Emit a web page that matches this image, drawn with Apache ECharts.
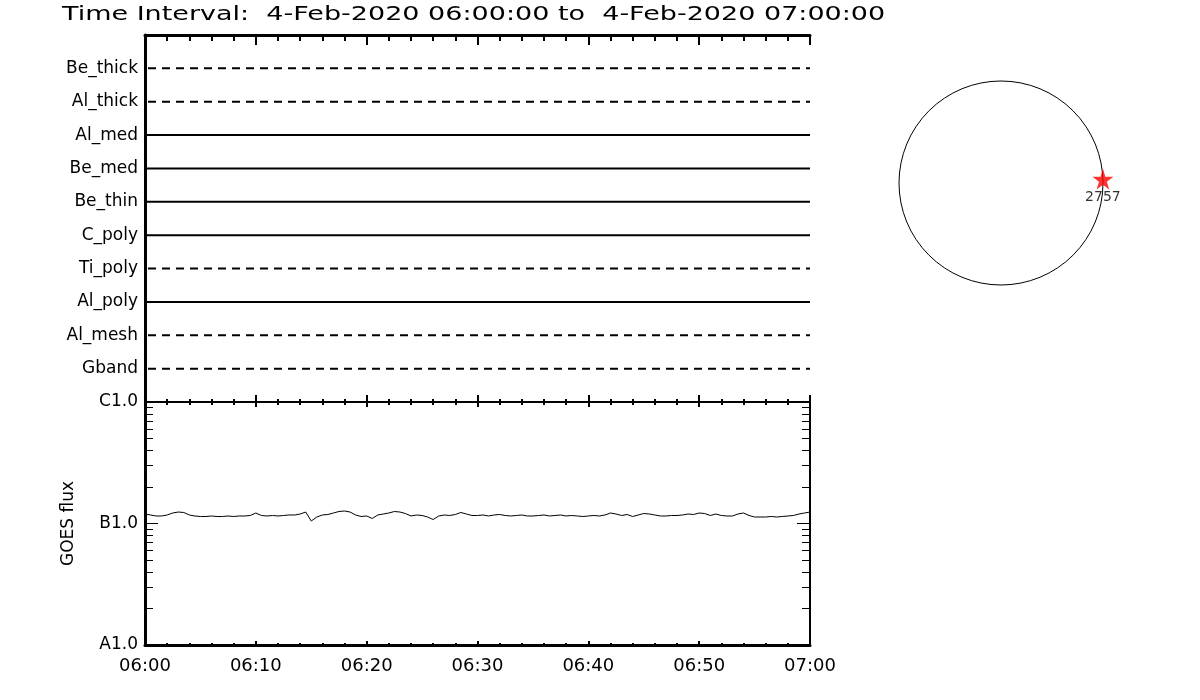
<!DOCTYPE html>
<html>
<head>
<meta charset="utf-8">
<script src="https://cdn.jsdelivr.net/npm/echarts@6/dist/echarts.min.js"></script>
<style>
  html, body { margin: 0; padding: 0; background: #fff; }
  #chart { width: 1200px; height: 700px; }
</style>
</head>
<body>
<div id="chart"></div>
<script>
// channel rows of the top panel, top to bottom
const channelNames = ['Be_thick', 'Al_thick', 'Al_med', 'Be_med', 'Be_thin', 'C_poly', 'Ti_poly', 'Al_poly', 'Al_mesh', 'Gband']
const channelLineTypes = ['dashed', 'dashed', 'solid', 'solid', 'solid', 'solid', 'dashed', 'solid', 'dashed', 'dashed']

// minutes after 06:00
const timeRange = [0, 60]
const timeLabels = ['06:00', '06:10', '06:20', '06:30', '06:40', '06:50', '07:00']

// GOES flux, units of 1e-7 W/m^2, one sample every 30 s
const goesStep = 0.5
const goesFlux = [
    1.197, 1.175, 1.153, 1.153, 1.175, 1.220, 1.243, 1.232, 1.175, 1.153,
    1.142, 1.142, 1.153, 1.142, 1.142, 1.153, 1.142, 1.153, 1.153, 1.164,
    1.220, 1.164, 1.153, 1.164, 1.153, 1.164, 1.175, 1.175, 1.197, 1.243,
    1.048, 1.131, 1.175, 1.186, 1.220, 1.255, 1.267, 1.243, 1.175, 1.142,
    1.153, 1.100, 1.175, 1.197, 1.220, 1.255, 1.243, 1.208, 1.153, 1.175,
    1.164, 1.131, 1.078, 1.153, 1.175, 1.164, 1.186, 1.232, 1.197, 1.164,
    1.164, 1.175, 1.153, 1.175, 1.186, 1.164, 1.153, 1.164, 1.175, 1.153,
    1.153, 1.164, 1.175, 1.153, 1.164, 1.175, 1.153, 1.164, 1.153, 1.142,
    1.153, 1.164, 1.153, 1.175, 1.220, 1.197, 1.164, 1.186, 1.142, 1.175,
    1.208, 1.197, 1.175, 1.153, 1.153, 1.164, 1.164, 1.175, 1.197, 1.186,
    1.220, 1.208, 1.164, 1.197, 1.164, 1.153, 1.153, 1.197, 1.220, 1.164,
    1.131, 1.131, 1.131, 1.142, 1.131, 1.142, 1.153, 1.164, 1.197, 1.220,
    1.243
]
const fluxUnit = 1e-7

// GOES class axis
const fluxRange = [1e-8, 1e-6]
const fluxMajorTicks = [1e-8, 1e-7, 1e-6]
const fluxLabels = ['A1.0', 'B1.0', 'C1.0']
const fluxMinorTicks = [2e-8, 3e-8, 4e-8, 5e-8, 6e-8, 7e-8, 8e-8, 9e-8,
    2e-7, 3e-7, 4e-7, 5e-7, 6e-7, 7e-7, 8e-7, 9e-7]

// active region on the solar disk (radius in solar radii, angle in degrees)
const regionIds = ['2757']
const regionRadius = [1.0]
const regionAngle = [2.2]

const titleText = 'Time Interval:  4-Feb-2020 06:00:00 to  4-Feb-2020 07:00:00'

const black = '#000'
const labelFont = { color: black, fontSize: 17, fontFamily: 'DejaVu Sans' }

const chart = echarts.init(document.getElementById('chart'), null, { renderer: 'canvas' })

const timeAxis = (grid, position, major, minor, lineWidth, showLabel) => ({
    type: 'value',
    gridIndex: grid,
    position: position,
    min: timeRange[0],
    max: timeRange[1],
    interval: 10,
    axisLine: { show: true, onZero: false, lineStyle: { color: black, width: lineWidth } },
    axisTick: { show: true, inside: true, length: major, lineStyle: { color: black, width: 2 } },
    minorTick: { show: true, splitNumber: 5, length: minor, lineStyle: { color: black, width: 2 } },
    splitLine: { show: false },
    minorSplitLine: { show: false },
    axisLabel: {
        show: showLabel,
        margin: 12,
        ...labelFont,
        fontSize: 18,
        formatter: v => timeLabels[Math.round(v / 10)]
    }
})

const fluxAxis = (position, ticks, length, showLine, showLabel, name) => ({
    type: 'log',
    logBase: 10,
    gridIndex: 1,
    position: position,
    min: fluxRange[0],
    max: fluxRange[1],
    name: name,
    nameLocation: 'middle',
    nameGap: 68,
    nameTextStyle: { ...labelFont, padding: [0, 0, 0, 0] },
    axisLine: { show: showLine, lineStyle: { color: black, width: position === 'left' ? 3 : 2 } },
    axisTick: { show: true, inside: true, length: length, customValues: ticks, lineStyle: { color: black, width: 1 } },
    splitLine: { show: false },
    axisLabel: {
        show: showLabel,
        margin: 7,
        customValues: fluxMajorTicks,
        ...labelFont,
        formatter: v => fluxLabels[Math.round(Math.log10(v)) + 8]
    }
})

const channelSeries = channelNames.map((name, i) => ({
    name: name,
    type: 'line',
    xAxisIndex: 0,
    yAxisIndex: 0,
    symbol: 'none',
    silent: true,
    lineStyle: {
        color: black,
        width: 2,
        type: channelLineTypes[i] === 'dashed' ? [8, 6] : 'solid',
        dashOffset: channelLineTypes[i] === 'dashed' ? -3 : 0
    },
    data: [[timeRange[0], i + 1], [timeRange[1], i + 1]]
}))

const option = {
    animation: false,
    backgroundColor: '#fff',
    graphic: [{
        type: 'text',
        x: 62,
        y: 5,
        scaleX: 1.35,
        style: {
            text: titleText,
            fill: black,
            font: 'normal 20px "DejaVu Sans"',
            textBaseline: 'top'
        }
    }],
    grid: [
        { left: 145, right: 390, top: 35, bottom: 298 },
        { left: 145, right: 390, top: 402, bottom: 55 }
    ],
    xAxis: [
        timeAxis(0, 'bottom', 7, 3, 2, false),
        timeAxis(0, 'top', 10, 6, 3, false),
        timeAxis(1, 'top', 5, 3, 2, false),
        timeAxis(1, 'bottom', 4, 2, 3, true)
    ],
    yAxis: [
        {
            type: 'value',
            gridIndex: 0,
            position: 'left',
            min: 0,
            max: channelNames.length + 1,
            inverse: true,
            axisLine: { show: true, lineStyle: { color: black, width: 3 } },
            axisTick: { show: false },
            splitLine: { show: false },
            axisLabel: {
                margin: 7,
                ...labelFont,
                customValues: channelNames.map((n, i) => i + 1),
                formatter: v => channelNames[v - 1]
            }
        },
        {
            type: 'value',
            gridIndex: 0,
            position: 'right',
            min: 0,
            max: channelNames.length + 1,
            inverse: true,
            axisLine: { show: true, lineStyle: { color: black, width: 2 } },
            axisTick: { show: false },
            splitLine: { show: false },
            axisLabel: { show: false }
        },
        fluxAxis('left', fluxMajorTicks, 13, true, true, 'GOES flux'),
        fluxAxis('left', fluxMinorTicks, 8, false, false, ''),
        fluxAxis('right', fluxMajorTicks, 13, true, false, ''),
        fluxAxis('right', fluxMinorTicks, 8, false, false, '')
    ],
    polar: {
        center: [1001, 183],
        radius: 102
    },
    angleAxis: {
        type: 'value',
        min: 0,
        max: 360,
        startAngle: 0,
        clockwise: false,
        axisLine: { show: true, lineStyle: { color: black, width: 1 } },
        axisTick: { show: false },
        axisLabel: { show: false },
        splitLine: { show: false }
    },
    radiusAxis: {
        type: 'value',
        min: 0,
        max: 1,
        axisLine: { show: false },
        axisTick: { show: false },
        axisLabel: { show: false },
        splitLine: { show: false }
    },
    series: [
        ...channelSeries,
        {
            name: 'GOES',
            type: 'line',
            xAxisIndex: 3,
            yAxisIndex: 2,
            symbol: 'none',
            lineStyle: { color: black, width: 1 },
            data: goesFlux.map((v, i) => [i * goesStep, v * fluxUnit])
        },
        {
            name: 'regions',
            type: 'scatter',
            coordinateSystem: 'polar',
            symbol: 'path://M50,0 L61,35 L98,35 L68,57 L79,91 L50,70 L21,91 L32,57 L2,35 L39,35 Z',
            symbolSize: 21,
            itemStyle: { color: '#ff0000' },
            label: {
                show: true,
                position: 'bottom',
                distance: 1,
                color: black,
                fontSize: 14,
                fontFamily: 'DejaVu Sans',
                formatter: p => regionIds[p.dataIndex]
            },
            data: regionIds.map((id, i) => [regionRadius[i], regionAngle[i]])
        }
    ]
}

chart.setOption(option)
</script>
</body>
</html>
